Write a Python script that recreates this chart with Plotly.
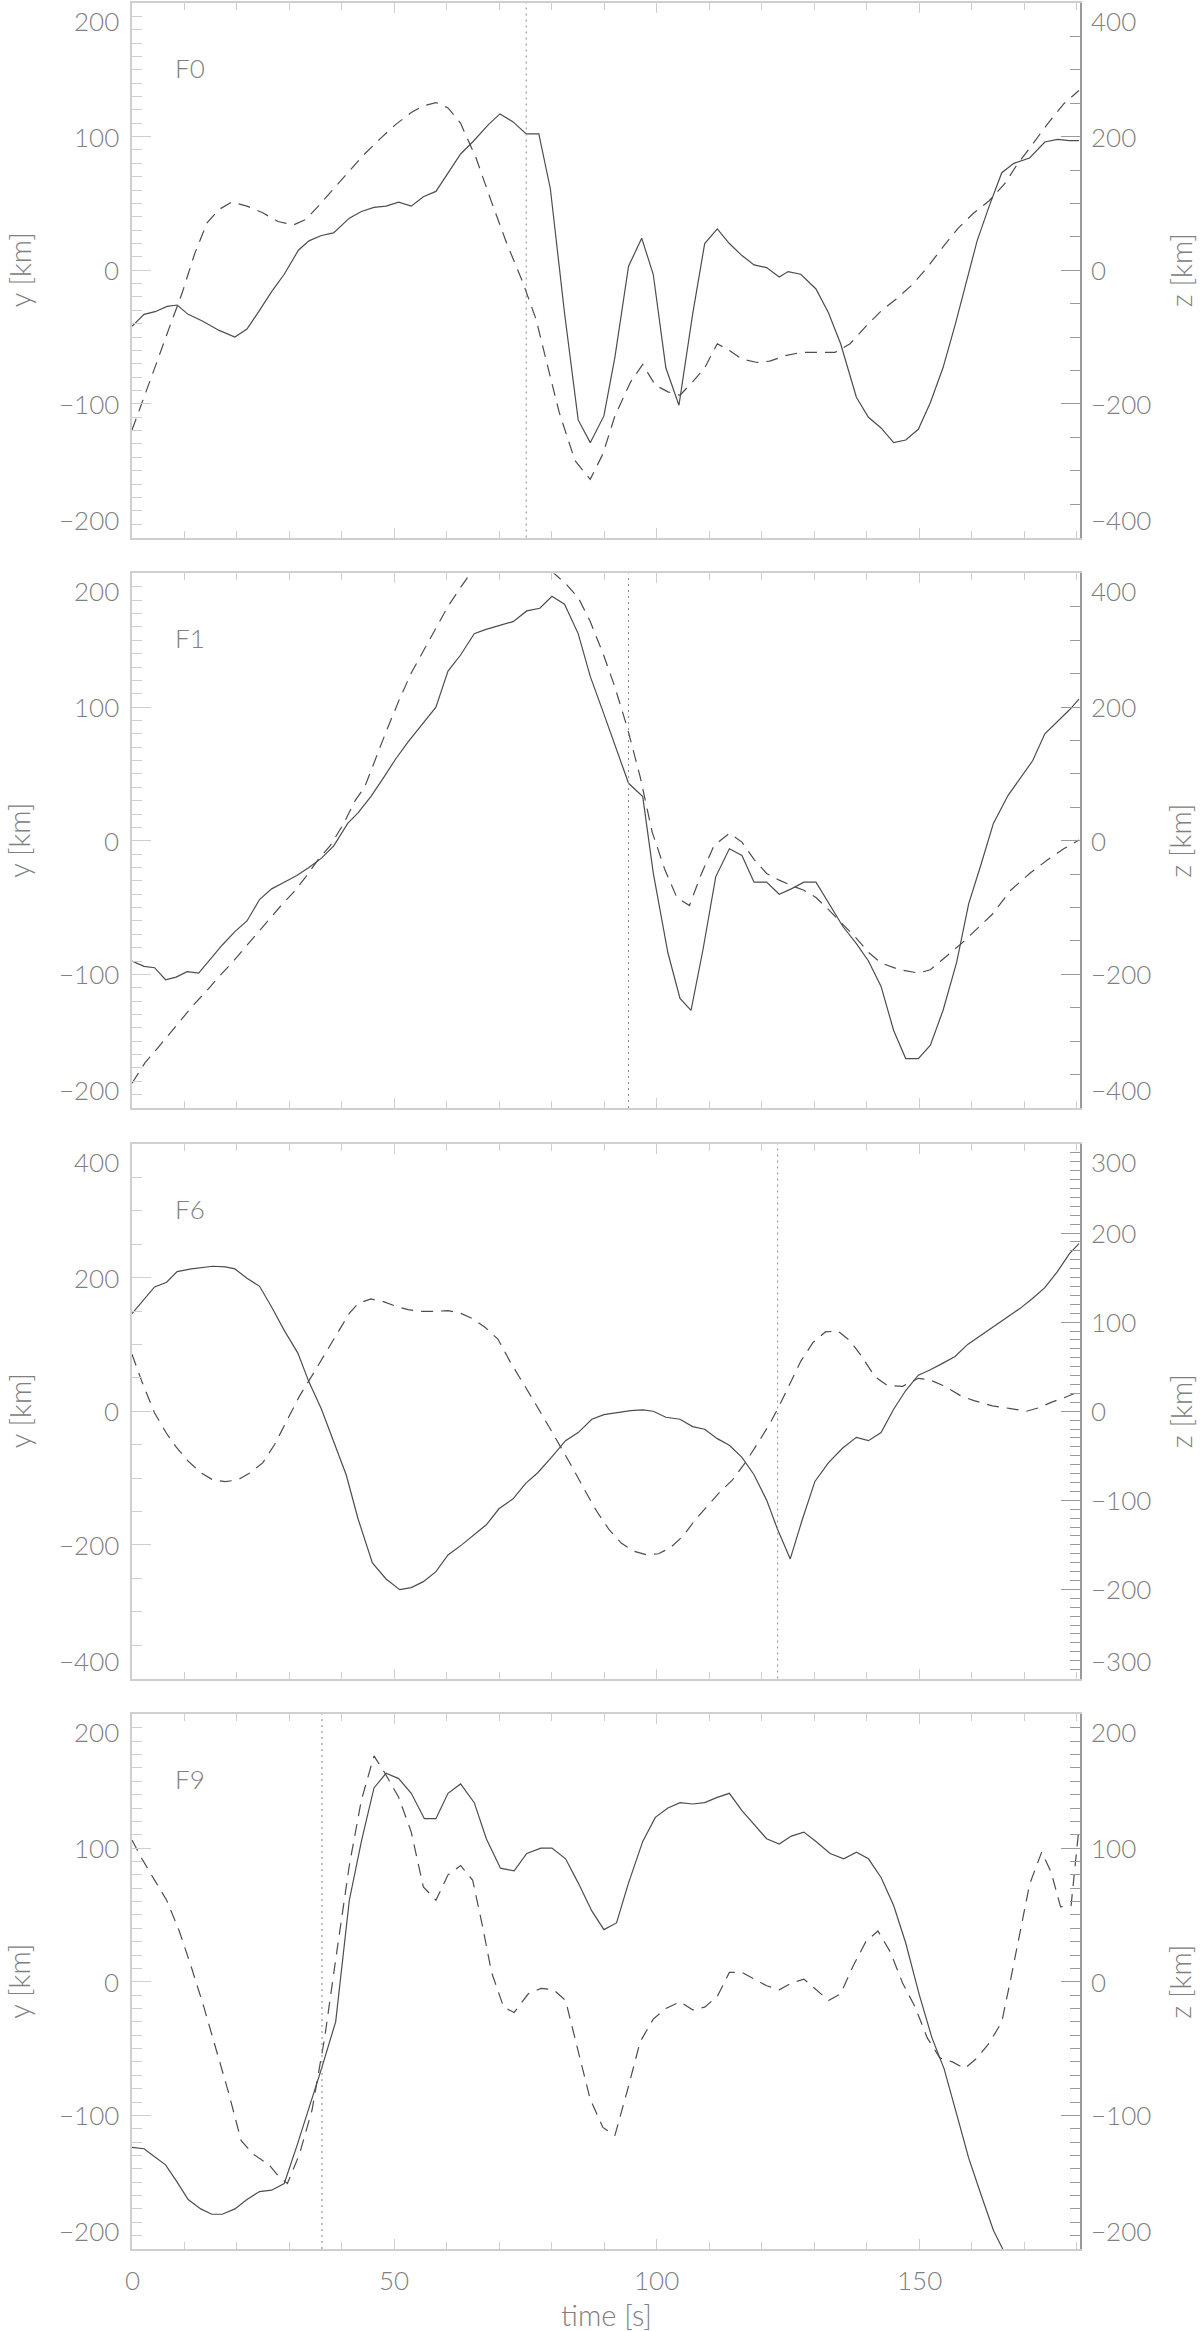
import plotly.graph_objects as go

# ---------------------------------------------------------------------------
# Data (time in s, y/z in km)
# ---------------------------------------------------------------------------

T_MAX = 180.6
PANEL_NAMES = ["F0", "F1", "F6", "F9"]
MARK_TIMES = [75.1, 94.6, 123.0, 36.2]

f0_t_y = [0, 2.3, 4.4, 6.7, 8.6, 10.7, 13.4, 16.6, 19.6, 21.9, 24.3, 26.6, 29.0, 31.7,
          33.7, 36.1, 38.4, 41.4, 43.7, 46.1, 48.4, 50.8, 53.2, 55.5, 57.9, 60.2, 62.6,
          64.9, 67.9, 70.1, 72.6, 75.1, 77.5, 79.7, 82.4, 85.0, 87.3, 89.9, 92.0, 94.6,
          97.1, 99.3, 101.7, 104.2, 106.8, 109.1, 111.5, 113.8, 116.2, 118.5, 120.9,
          123.3, 125.0, 127.4, 130.3, 132.7, 135.0, 138.0, 140.3, 142.7, 145.1, 147.4,
          149.8, 152.1, 154.5, 156.8, 159.2, 161.0, 163.3, 165.7, 168.0, 171.0, 173.9,
          176.3, 178.6, 180.4]
f0_y = [-42, -33, -31, -27, -26, -33, -38, -45, -50, -44, -30, -16, -3, 15, 22, 26, 28,
        39, 44, 47, 48, 51, 48, 55, 59, 73, 87, 96, 109, 117, 111, 102, 102, 61, -32,
        -112, -129, -109, -65, 3, 24, -3, -73, -101, -33, 20, 31, 20, 11, 4, 2, -5, -1,
        -3, -14, -32, -55, -95, -110, -118, -129, -127, -119, -99, -73, -41, -6, 22, 48,
        73, 80, 84, 96, 98, 97, 97]

f0_t_z = [0, 2.5, 4.8, 7.2, 9.6, 11.9, 14.3, 16.6, 19.0, 21.9, 24.9, 27.8, 30.8, 33.1,
          35.5, 38.4, 41.4, 44.3, 47.3, 50.2, 53.2, 55.5, 57.9, 60.2, 62.6, 65.5, 68.5,
          71.4, 74.4, 77.0, 79.1, 81.4, 84.4, 87.3, 89.7, 92.0, 95.0, 97.3, 99.7, 102.1,
          104.4, 106.8, 109.1, 111.5, 113.8, 116.2, 119.1, 121.5, 124.4, 127.4, 130.3,
          133.9, 136.8, 139.8, 142.7, 145.6, 148.6, 151.5, 154.5, 157.4, 160.4, 163.3,
          166.3, 168.6, 171.6, 174.5, 177.5, 180.4]
f0_z = [-239, -187, -136, -84, -33, 24, 71, 91, 102, 96, 86, 73, 68, 76, 96, 122, 148,
        174, 197, 218, 236, 246, 251, 243, 220, 169, 102, 40, -17, -74, -141, -213, -285,
        -313, -275, -218, -167, -141, -172, -182, -187, -167, -146, -110, -120, -133,
        -138, -136, -128, -123, -123, -123, -110, -84, -61, -43, -22, 4, 35, 63, 86, 104,
        130, 158, 189, 220, 249, 269]

f1_t_y = [0, 2.3, 4.3, 6.4, 8.4, 10.5, 12.7, 14.9, 17.2, 19.6, 21.9, 24.3, 26.6, 29.0,
          31.4, 33.7, 36.1, 38.4, 41.1, 43.1, 45.5, 47.9, 50.2, 52.6, 55.5, 57.9, 60.2,
          62.6, 65.2, 67.3, 69.9, 72.6, 75.2, 77.7, 80.0, 82.4, 85.0, 87.3, 89.7, 92.0,
          94.6, 97.3, 99.3, 102.1, 104.4, 106.5, 108.8, 111.2, 113.8, 116.2, 118.5, 120.9,
          123.3, 125.6, 128.0, 130.3, 132.7, 135.4, 138.0, 140.3, 142.7, 145.1, 147.4,
          149.8, 152.1, 154.5, 157.1, 159.4, 161.8, 164.1, 166.9, 169.2, 171.6, 173.9,
          176.3, 178.6, 180.4]
f1_y = [-90, -94, -95, -104, -102, -98, -99, -89, -78, -68, -60, -44, -36, -31, -26, -20,
        -13, -4, 13, 21, 33, 47, 61, 74, 88, 100, 127, 139, 155, 158, 161, 164, 172, 174,
        183, 177, 155, 123, 97, 71, 43, 33, -24, -84, -118, -127, -81, -27, -6, -11, -31,
        -31, -40, -36, -31, -31, -47, -64, -77, -90, -109, -142, -163, -163, -153, -127,
        -91, -47, -17, 13, 34, 47, 60, 80, 89, 98, 106]

f1_t_z = [0, 2.5, 4.8, 7.2, 9.6, 11.9, 14.3, 16.6, 19.0, 21.3, 23.7, 26.1, 28.4, 30.8,
          33.1, 35.5, 37.8, 40.2, 42.5, 44.3, 46.1, 48.4, 50.8, 53.2, 55.5, 57.9, 60.2,
          62.6, 64.9, 68.5, 72.0, 75.5, 79.1, 80.3, 82.6, 85.0, 87.3, 89.7, 92.0, 94.4,
          96.8, 99.1, 101.5, 103.8, 106.2, 108.5, 110.9, 113.8, 116.2, 118.5, 120.9, 123.3,
          125.6, 128.0, 130.3, 132.7, 135.6, 138.0, 140.3, 142.7, 146.2, 149.8, 152.1,
          154.5, 158.0, 160.4, 163.9, 167.4, 171.0, 174.5, 177.5, 180.4]
f1_z = [-363, -332, -311, -288, -265, -244, -224, -203, -183, -162, -141, -118, -97, -77,
        -54, -28, -7, 24, 60, 80, 117, 163, 209, 251, 284, 318, 351, 379, 405, 430, 445,
        440, 415, 401, 385, 364, 328, 281, 230, 168, 96, 13, -43, -85, -97, -49, -7, 11,
        -2, -28, -49, -59, -67, -74, -85, -103, -126, -146, -167, -183, -193, -198, -193,
        -177, -154, -136, -110, -74, -49, -28, -12, 1]

f6_t_y = [0, 2.3, 4.3, 6.6, 8.6, 11.3, 15.4, 17.8, 19.6, 21.9, 24.3, 26.6, 29.0, 31.6,
          33.7, 36.1, 38.4, 40.8, 43.1, 45.8, 48.4, 51.0, 53.2, 55.5, 57.9, 60.2, 62.8,
          65.2, 67.5, 69.9, 72.6, 75.0, 77.3, 79.9, 82.6, 85.0, 87.6, 89.9, 92.6, 95.0,
          97.3, 99.3, 101.7, 104.4, 106.8, 109.1, 111.5, 113.8, 116.2, 118.5, 120.9,
          123.0, 125.4, 127.7, 130.1, 132.7, 135.4, 138.0, 140.3, 142.7, 145.1, 147.4,
          149.8, 152.1, 154.5, 156.8, 159.2, 161.6, 163.9, 166.3, 169.2, 171.6, 173.9,
          176.3, 178.6, 180.4]
f6_y = [146, 167, 186, 193, 209, 213, 217, 216, 213, 199, 187, 156, 121, 87, 44, 3, -44,
        -95, -162, -227, -251, -267, -264, -255, -240, -215, -200, -185, -170, -146, -131,
        -108, -92, -69, -44, -32, -12, -5, -2, 1, 2, 0, -9, -12, -23, -27, -41, -51, -69,
        -95, -133, -177, -221, -162, -105, -77, -55, -39, -44, -32, 3, 31, 54, 62, 72, 82,
        100, 113, 126, 139, 154, 169, 185, 209, 236, 251]

f6_t_z = [0, 1.9, 4.3, 6.6, 8.4, 10.7, 13.1, 15.4, 17.8, 20.2, 22.5, 24.9, 27.2, 29.6,
          31.9, 34.3, 36.7, 39.0, 41.4, 43.1, 45.5, 47.9, 50.2, 52.6, 54.9, 57.3, 60.2,
          62.6, 64.9, 67.3, 69.7, 72.0, 74.4, 76.7, 79.1, 81.4, 83.8, 86.1, 88.5, 90.9,
          93.2, 95.6, 97.9, 100.3, 102.6, 105.0, 107.4, 109.7, 112.1, 114.4, 116.8, 119.1,
          121.5, 123.3, 125.0, 127.4, 129.7, 132.1, 134.5, 136.8, 139.2, 141.5, 143.9,
          146.8, 149.8, 152.1, 154.5, 158.0, 160.4, 163.9, 167.4, 170.4, 172.8, 175.1,
          177.5, 180.4]
f6_z = [64, 33, -2, -25, -40, -56, -69, -77, -79, -77, -69, -58, -37, -10, 17, 40, 64, 87,
        110, 121, 126, 123, 118, 114, 112, 112, 113, 110, 104, 94, 81, 56, 33, 10, -14,
        -37, -62, -87, -112, -133, -148, -157, -161, -160, -153, -140, -121, -106, -90,
        -77, -58, -37, -14, 6, 27, 56, 77, 89, 90, 79, 60, 39, 29, 28, 37, 35, 29, 17, 12,
        6, 3, 0, 4, 10, 15, 22]

f9_t_y = [0, 2.3, 4.3, 6.4, 8.6, 10.7, 13.1, 15.2, 17.2, 19.6, 21.9, 24.3, 26.6, 29.0,
          31.4, 33.7, 36.1, 38.8, 41.4, 43.7, 46.1, 48.4, 50.8, 53.2, 55.7, 57.9, 60.2,
          62.6, 65.2, 67.5, 70.2, 72.8, 75.2, 77.9, 80.0, 82.6, 85.0, 87.6, 89.9, 92.3,
          94.6, 97.3, 99.7, 102.1, 104.4, 106.8, 109.1, 111.5, 113.8, 116.2, 118.5, 120.9,
          123.3, 125.6, 128.0, 130.3, 133.0, 135.6, 138.0, 140.3, 142.7, 145.1, 147.4,
          150.0, 152.4, 154.7, 157.1, 159.4, 161.8, 164.1, 166.0, 168.4, 170.8, 173.1,
          175.5, 177.9, 180.4]
f9_y = [-124, -125, -131, -137, -150, -163, -170, -174, -174, -170, -163, -157, -156,
        -151, -123, -95, -65, -30, 61, 105, 145, 156, 152, 141, 122, 122, 141, 148, 134,
        107, 85, 83, 96, 100, 100, 92, 74, 53, 39, 44, 74, 105, 123, 130, 134, 133, 134,
        138, 141, 128, 118, 107, 103, 109, 112, 105, 96, 92, 97, 92, 78, 57, 29, -10, -42,
        -65, -99, -132, -160, -186, -201, -220, -240, -262, -284, -305, -325]

f9_t_z = [0, 1.9, 4.3, 6.6, 9.0, 11.3, 13.7, 16.0, 18.4, 20.8, 23.1, 26.1, 27.8, 29.6,
          31.9, 34.3, 36.7, 39.0, 41.4, 43.7, 46.1, 48.2, 50.8, 53.2, 55.5, 57.9, 60.2,
          62.6, 64.9, 66.7, 68.5, 70.8, 72.8, 75.5, 77.9, 80.3, 82.6, 85.0, 87.3, 89.7,
          92.0, 94.4, 96.8, 99.3, 101.7, 104.4, 106.8, 109.1, 111.5, 113.8, 116.2, 118.5,
          120.9, 123.3, 125.6, 128.0, 130.3, 132.7, 135.0, 137.4, 139.8, 142.1, 144.5,
          146.8, 149.2, 151.5, 153.9, 156.3, 158.6, 161.0, 163.3, 165.7, 167.4, 169.2,
          171.0, 173.3, 175.1, 176.9, 178.9, 180.4]
f9_z = [106, 92, 76, 61, 38, 11, -19, -50, -83, -119, -129, -137, -145, -151, -129, -96,
        -42, 22, 87, 136, 169, 156, 138, 112, 71, 61, 80, 87, 76, 43, 7, -19, -23, -9, -5,
        -6, -14, -52, -88, -109, -115, -81, -45, -28, -20, -15, -21, -19, -11, 7, 7, 2,
        -3, -6, -1, 2, -6, -14, -9, 12, 30, 38, 22, -1, -19, -42, -57, -60, -65, -57, -46,
        -30, 2, 38, 73, 97, 82, 56, 57, 115]

# per panel: (t_y, y, t_z, z, left lim/major/minor, right lim/major/minor)
PANELS = [
    (f0_t_y, f0_y, f0_t_z, f0_z, (200, 100, 10), (400, 200, 50)),
    (f1_t_y, f1_y, f1_t_z, f1_z, (200, 100, 10), (400, 200, 50)),
    (f6_t_y, f6_y, f6_t_z, f6_z, (400, 200, 50), (300, 100, 10)),
    (f9_t_y, f9_y, f9_t_z, f9_z, (200, 100, 10), (200, 100, 10)),
]

X_TICKS = [0, 50, 100, 150]

# ---------------------------------------------------------------------------
# Style
# ---------------------------------------------------------------------------

LINE = "#4d4d4d"
TEXT = "#808080"
AXIS_L = "#cfcfcf"
AXIS_R = "#9a9a9a"
FAMILY = "Lato, 'DejaVu Sans', sans-serif"
TICK_FONT = dict(family=FAMILY, size=26, color=TEXT, weight=300)
TITLE_FONT = dict(family=FAMILY, size=29, color=TEXT, weight=300)

W, H = 1200, 2331
M_L, M_R, M_T, M_B = 132, 120, 1, 82
PLOT_H = H - M_T - M_B
PANEL_H, PANEL_STEP = 535, 571


def fmt(v):
    return f"\u2212{abs(v)}" if v < 0 else str(v)


fig = go.Figure()
annotations = []
shapes = []

for k, (ty, yv, tz, zv, left, right) in enumerate(PANELS):
    top = 1 - k * PANEL_STEP / PLOT_H
    bot = 1 - (k * PANEL_STEP + PANEL_H) / PLOT_H
    xa = "x" if k == 0 else f"x{k + 1}"
    yl_n, yr_n = 2 * k + 1, 2 * k + 2
    yl = "y" if yl_n == 1 else f"y{yl_n}"
    yr = f"y{yr_n}"

    fig.add_trace(go.Scatter(x=ty, y=yv, mode="lines", xaxis=xa, yaxis=yl,
                             line=dict(color=LINE, width=1.2), showlegend=False))
    fig.add_trace(go.Scatter(x=tz, y=zv, mode="lines", xaxis=xa, yaxis=yr,
                             line=dict(color=LINE, width=1.2, dash="12px,8px"),
                             showlegend=False))

    xkey = "xaxis" if k == 0 else f"xaxis{k + 1}"
    fig.layout[xkey] = dict(
        domain=[0, 1], anchor=yl, range=[0, T_MAX], showgrid=False, zeroline=False,
        showline=True, linecolor=AXIS_L, linewidth=1.5, mirror="ticks",
        ticks="inside", ticklen=10, tickcolor=AXIS_L, dtick=50, tick0=0,
        minor=dict(ticks="inside", dtick=10, ticklen=7, tickcolor=AXIS_L),
        showticklabels=False,
    )
    if k > 0:
        fig.layout[xkey].matches = "x"

    lim, major, minor = left
    fig.layout["yaxis" if yl_n == 1 else f"yaxis{yl_n}"] = dict(
        domain=[bot, top], anchor=xa, side="left", range=[-lim, lim],
        showgrid=False, zeroline=False, showline=True, linecolor=AXIS_L, linewidth=1.5,
        ticks="inside", ticklen=19, tickcolor=AXIS_L, dtick=major, tick0=0,
        minor=dict(ticks="inside", dtick=minor, ticklen=10, tickcolor=AXIS_L),
        showticklabels=False,
    )
    rlim, rmajor, rminor = right
    fig.layout[f"yaxis{yr_n}"] = dict(
        domain=[bot, top], anchor=xa, side="right", overlaying=yl, range=[-rlim, rlim],
        showgrid=False, zeroline=False, showline=True, linecolor=AXIS_R, linewidth=1.5,
        ticks="inside", ticklen=19, tickcolor=AXIS_R, dtick=rmajor, tick0=0,
        minor=dict(ticks="inside", dtick=rminor, ticklen=10, tickcolor=AXIS_R),
        showticklabels=False,
    )

    # IDL-style tick labels: end labels tucked inside the panel
    for ref, lim_, step, xpos, xanchor, xshift in [
        (yl, lim, major, 0, "right", -11),
        (yr, rlim, rmajor, 1, "left", 9),
    ]:
        v = -lim_
        while v <= lim_:
            yanchor = "top" if v == lim_ else "bottom" if v == -lim_ else "middle"
            annotations.append(dict(
                x=xpos, xref="paper", y=v, yref=ref, text=fmt(v), showarrow=False,
                xanchor=xanchor, yanchor=yanchor, xshift=xshift, font=TICK_FONT,
            ))
            v += step

    # panel label
    annotations.append(dict(
        x=0.0436, xref=f"{xa} domain", y=1 - 65 / PANEL_H, yref=f"{yl} domain",
        text=PANEL_NAMES[k], showarrow=False, xanchor="left", yanchor="middle",
        font=TICK_FONT,
    ))
    # axis titles
    annotations.append(dict(
        x=0, xref="paper", y=0.5, yref=f"{yl} domain", text="y [km]", textangle=-90,
        showarrow=False, xanchor="center", yanchor="middle", xshift=-113, font=TITLE_FONT,
    ))
    annotations.append(dict(
        x=1, xref="paper", y=0.5, yref=f"{yl} domain", text="z [km]", textangle=-90,
        showarrow=False, xanchor="center", yanchor="middle", xshift=100, font=TITLE_FONT,
    ))

    # dotted marker line
    shapes.append(dict(
        type="line", xref=xa, yref=f"{yl} domain", x0=MARK_TIMES[k], x1=MARK_TIMES[k],
        y0=0, y1=1, line=dict(color="#888888", width=1, dash="2px,4px"),
    ))

for v in X_TICKS:
    annotations.append(dict(
        x=v, xref="x4", y=0, yref="paper", text=str(v), showarrow=False,
        xanchor="center", yanchor="middle", yshift=-31, font=TICK_FONT,
    ))
annotations.append(dict(
    x=0.5, xref="paper", y=0, yref="paper", text="time [s]", showarrow=False,
    xanchor="center", yanchor="middle", yshift=-65, font=TITLE_FONT,
))

fig.update_layout(
    width=W, height=H,
    margin=dict(l=M_L, r=M_R, t=M_T, b=M_B, pad=0),
    paper_bgcolor="white", plot_bgcolor="white",
    font=TICK_FONT, showlegend=False,
    annotations=annotations, shapes=shapes,
)

# drop the browser's default 8px body margin so the figure sits at the page origin
fig.write_html("out.html", config={"displayModeBar": False},
               post_script="document.body.style.margin='0';")
